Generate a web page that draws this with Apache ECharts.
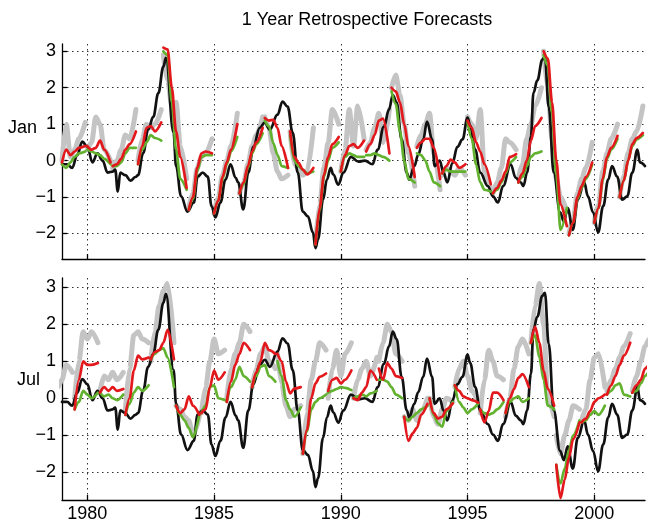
<!DOCTYPE html>
<html>
<head>
<meta charset="utf-8">
<script src="https://cdn.jsdelivr.net/npm/echarts@6/dist/echarts.min.js"></script>
<style>
  html, body { margin: 0; padding: 0; background: #fff; }
  #chart { width: 649px; height: 528px; }
</style>
</head>
<body>
<div id="chart"></div>
<script>
var obsTime = [1979.0, 1979.2, 1979.4, 1979.6, 1979.8, 1980.0, 1980.2, 1980.4, 1980.6, 1980.8,
  1981.0, 1981.1, 1981.2, 1981.3, 1981.5, 1981.7, 1981.9, 1982.0, 1982.2, 1982.4,
  1982.6, 1982.8, 1983.0, 1983.1, 1983.4, 1983.5, 1983.7, 1983.95, 1984.2, 1984.35,
  1984.55, 1984.75, 1984.9, 1985.05, 1985.25, 1985.45, 1985.65, 1985.85, 1985.95, 1986.15,
  1986.35, 1986.55, 1986.8, 1987.0, 1987.2, 1987.5, 1987.7, 1987.9, 1988.1, 1988.3,
  1988.5, 1988.7, 1988.9, 1989.0, 1989.1, 1989.3, 1989.45, 1989.6, 1989.7, 1989.9,
  1990.1, 1990.4, 1990.7, 1990.95, 1991.25, 1991.45, 1991.7, 1991.9, 1992.05, 1992.2,
  1992.4, 1992.6, 1992.7, 1992.9, 1993.05, 1993.25, 1993.4, 1993.6, 1993.7, 1993.9,
  1994.05, 1994.2, 1994.4, 1994.6, 1994.8, 1995.0, 1995.1, 1995.3, 1995.5, 1995.8,
  1996.0, 1996.2, 1996.4, 1996.7, 1996.9, 1997.1, 1997.2, 1997.35, 1997.5, 1997.6,
  1997.75, 1997.95, 1998.05, 1998.2, 1998.4, 1998.65, 1998.8, 1998.95, 1999.15, 1999.35,
  1999.6, 1999.75, 1999.95, 2000.15, 2000.35, 2000.55, 2000.7, 2000.9, 2001.1, 2001.3,
  2001.5, 2001.7, 2001.8, 2002.0];
var obsValue = [-0.1, -0.1, -0.2, 0.15, 0.52, 0.38, -0.05, 0.2, 0.0, -0.33,
  -0.3, -0.25, -0.85, -0.33, -0.4, -0.55, -0.45, -0.4, 0.2, 0.85,
  1.2, 1.85, 2.58, 2.82, 0.77, -0.15, -0.98, -1.4, -1.15, -0.44,
  -0.33, -0.44, -1.25, -1.56, -1.15, -0.52, -0.1, -0.47, -0.6, -1.34,
  -0.33, 0.38, 0.9, 1.04, 0.85, 1.26, 1.62, 1.48, 0.77, -0.33,
  -1.4, -1.53, -1.97, -2.4, -2.16, -1.07, -0.52, -0.2, -0.38, -0.66,
  -0.33, 0.1, -0.03, 0.0, -0.1, 0.3, 0.93, 1.4, 1.8, 1.6,
  0.58, -0.33, -0.52, -0.15, 0.16, 0.58, 1.07, 0.58, -0.15, 0.0,
  -0.33, -0.6, -0.07, 0.38, 0.58, 1.18, 0.96, 0.3, -0.33, -0.7,
  -0.98, -1.15, -0.7, -0.1, -0.47, -0.6, -0.7, -0.33, 0.66, 1.86,
  2.2, 2.77, 2.85, 1.48, -0.33, -1.42, -1.67, -1.3, -1.9, -1.07,
  -0.6, -0.98, -1.42, -1.97, -1.25, -0.52, -0.15, -0.44, -1.07, -0.98,
  -0.33, 0.3, -0.05, -0.15];

// forecast leads (months after the start) at which each segment is read
var leadMonths = [0, 2, 4, 6, 8, 11];

// January starts (top panel)
var janStartYears = [1979, 1980, 1981, 1982, 1983, 1984, 1985, 1986, 1987, 1988, 1989, 1990,
  1991, 1992, 1993, 1994, 1995, 1996, 1997, 1998, 1999, 2000, 2001];
var janRed = [
  [-0.05, 0.3, 0.15, 0.25, 0.35, 0.4], [0.4, 0.3, 0.35, 0.55, 0.3, -0.05],
  [-0.15, -0.1, 0.05, 0.3, 0.45, 0.8], [-0.1, 0.4, 0.9, 0.95, 0.8, 1.05],
  [3.1, 3.05, 2.0, 0.8, 0.1, -0.75], [-1.35, -1.0, -0.2, 0.2, 0.25, 0.2],
  [-1.45, -1.1, -0.45, -0.05, 0.3, 1.0], [-0.9, -0.6, -0.15, 0.25, 0.5, 0.9],
  [1.17, 1.1, 1.12, 0.9, 0.4, -0.2], [0.8, 0.1, -0.06, -0.25, -0.38, -0.2],
  [-2.3, -1.3, -0.4, 0.1, 0.45, 0.65], [-0.3, 0.15, 0.4, 0.45, 0.35, 0.55],
  [0.25, 0.45, 0.7, 1.1, 1.15, 0.2], [2.0, 1.9, 1.6, 1.0, 0.4, -0.45],
  [0.35, 0.5, 0.6, 0.6, 0.35, -0.5], [-0.35, -0.15, 0.03, -0.05, -0.2, -0.1],
  [1.1, 0.9, 0.5, 0.25, -0.1, -0.65], [-0.9, -0.75, -0.55, -0.3, 0.1, 0.18],
  [-0.6, -0.35, 0.0, 0.55, 0.95, 1.17], [3.0, 2.8, 1.6, 0.0, -1.2, -1.8],
  [-2.05, -1.7, -1.0, -0.7, -0.45, -0.05], [-1.7, -1.3, -0.5, 0.1, 0.35, 0.68],
  [-1.0, -0.55, 0.0, 0.45, 0.62, 0.76]
];
var janGreen = [
  [-0.1, -0.2, -0.05, 0.1, 0.2, 0.25], [0.3, 0.25, 0.2, 0.15, 0.05, -0.1],
  [-0.15, -0.15, -0.05, 0.2, 0.35, 0.35], [-0.1, 0.3, 0.5, 0.7, 0.62, 0.55],
  [3.0, 2.9, 1.6, 0.3, -0.5, -0.8], [-1.35, -1.05, -0.3, 0.1, 0.15, 0.15],
  [-1.45, -1.1, -0.5, -0.1, 0.25, 0.65], [-0.9, -0.65, -0.2, 0.2, 0.45, 0.75],
  [1.1, 0.94, 0.48, 0.16, -0.15, -0.2], [0.7, 0.0, -0.15, -0.25, -0.35, -0.3],
  [-2.3, -1.35, -0.45, 0.0, 0.35, 0.5], [-0.3, 0.1, 0.2, 0.15, 0.1, 0.1],
  [0.15, 0.15, 0.2, 0.15, 0.1, 0.0], [1.9, 1.55, 0.8, 0.0, -0.5, -0.6],
  [0.2, 0.15, 0.0, -0.3, -0.6, -0.7], [-0.35, -0.25, -0.3, -0.3, -0.3, -0.3],
  [1.05, 0.6, -0.1, -0.6, -0.8, -0.85], [-0.9, -0.8, -0.6, -0.35, -0.05, 0.1],
  [-0.6, -0.45, -0.15, 0.1, 0.2, 0.25], [2.9, 2.6, 1.3, -0.4, -1.9, -1.3],
  [-2.05, -1.7, -1.05, -0.75, -0.5, -0.1], [-1.7, -1.3, -0.55, 0.05, 0.3, 0.6],
  [-1.0, -0.55, 0.0, 0.4, 0.58, 0.7]
];
var janGray = [
  [0.0, 1.0, 0.1, 0.3, 0.6, 1.05], [0.3, 0.5, 1.2, 1.0, 0.3, 0.0],
  [-0.2, 0.0, 0.3, 0.7, 0.6, 1.4], [0.0, 0.6, 1.0, 0.9, 1.0, 1.4],
  [2.9, 2.2, 1.5, 1.6, 0.4, -0.5], [-1.3, -0.9, -0.2, 0.1, 0.2, 0.6],
  [-1.45, -1.0, -0.4, 0.0, 0.4, 1.3], [-0.9, -0.6, -0.1, 0.4, 0.7, 1.2],
  [1.2, 0.9, 0.2, -0.3, -0.5, -0.4], [0.8, -0.1, -0.2, -0.4, -0.3, 0.9],
  [-2.3, -1.2, -0.2, 0.5, 1.4, 1.0], [-0.3, 0.3, 1.4, 0.4, 1.5, 0.6],
  [0.3, 0.5, 0.9, 1.3, 0.5, 1.4], [2.0, 2.35, 1.8, 1.0, 0.2, -0.7],
  [0.4, 0.7, 1.0, 1.3, 0.2, -0.8], [-0.4, -0.2, -0.3, -0.4, -0.2, -0.4],
  [1.2, 1.0, 0.6, 1.4, -0.3, -0.8], [-0.9, -0.6, -0.2, 0.6, 0.5, 0.3],
  [-0.5, -0.1, 0.6, 1.0, 1.5, 2.0], [3.0, 2.0, 0.6, -0.5, -1.0, -1.4],
  [-2.0, -1.6, -0.9, -0.5, -0.2, 0.5], [-1.7, -1.2, -0.3, 0.2, 0.6, 1.0],
  [-1.0, -0.4, 0.2, 0.6, 0.8, 1.5]
];

// July starts (bottom panel)
var julStartYears = [1978.5, 1979.5, 1980.5, 1981.5, 1982.5, 1983.5, 1984.5, 1985.5, 1986.5,
  1987.5, 1988.5, 1989.5, 1990.5, 1991.5, 1992.5, 1993.5, 1994.5, 1995.5, 1996.5,
  1997.5, 1998.5, 1999.5, 2000.5, 2001.5];
var julRed = [
  null,
  [-0.3, 0.5, 1.0, 0.9, 0.9, 0.95], [0.15, 0.3, 0.2, 0.3, 0.2, 0.25],
  [-0.45, 0.0, 0.75, 1.15, 1.05, 1.1], [1.05, 1.25, 1.3, 1.5, 1.85, 1.05],
  [-0.2, -0.4, -0.3, 0.05, -0.2, -0.45], [-0.4, -0.3, 0.3, 0.75, 0.5, 0.7],
  [-0.1, 0.45, 0.9, 1.2, 1.5, 1.3], [0.3, 0.7, 1.0, 1.5, 1.3, 1.2],
  [1.2, 1.0, 0.45, 0.13, 0.26, 0.3], [-1.5, -0.85, 0.0, 0.4, 0.58, 0.67],
  [0.2, 0.5, 0.55, 0.4, 0.5, 0.75], [0.0, -0.05, 0.15, 0.3, 0.75, 0.5],
  [0.8, 0.5, 0.95, 0.8, 0.6, 0.55], [-0.5, -1.15, -0.95, -0.8, -0.45, -0.15],
  [0.0, -0.4, -0.55, -0.5, -0.3, -0.14], [0.35, 0.2, 0.05, 0.0, -0.05, -0.12],
  [-0.3, -0.65, -0.35, 0.15, 0.15, -0.05], [-0.4, 0.0, 0.25, 0.55, 0.65, 0.3],
  [1.5, 1.93, 1.5, 0.75, 0.25, -0.2], [-1.8, -2.7, -2.2, -1.6, -1.1, -0.65],
  [-0.65, -0.55, -0.35, -0.1, 0.0, 0.1], [0.1, 0.35, 0.6, 0.9, 1.15, 1.5],
  [0.15, 0.35, 0.5, 0.8, 0.9, 1.0]
];
var julGreen = [
  null,
  [-0.3, -0.1, 0.2, 0.1, 0.0, 0.15], [0.15, 0.05, 0.1, 0.0, -0.05, 0.1],
  [-0.45, -0.15, 0.15, 0.3, 0.2, 0.35], [1.05, 1.2, 1.3, 1.35, 1.1, 0.3],
  [-0.2, -0.45, -0.6, -0.8, -1.05, -0.45], [-0.4, -0.2, 0.3, 0.35, 0.0, -0.05],
  [-0.1, 0.3, 0.5, 0.85, 0.6, 0.45], [0.3, 0.6, 0.85, 0.9, 0.6, 0.45],
  [1.0, 0.6, -0.05, -0.3, -0.5, -0.25], [-1.5, -0.9, -0.3, -0.1, 0.0, 0.1],
  [0.15, 0.2, 0.25, 0.3, 0.28, 0.22], [0.0, 0.05, 0.1, 0.05, 0.13, 0.2],
  [0.5, 0.5, 0.45, 0.3, 0.1, 0.0], [-0.5, -0.6, -0.5, -0.4, -0.3, -0.2],
  [0.0, -0.45, -0.68, -0.77, -0.35, -0.1], [0.35, -0.1, -0.25, -0.4, -0.3, -0.14],
  [-0.3, -0.4, -0.45, -0.4, -0.3, -0.1], [-0.4, -0.1, 0.0, 0.05, -0.1, 0.0],
  [1.5, 1.7, 1.1, 0.5, -0.2, -0.3], [-1.8, -2.3, -1.9, -1.4, -1.0, -0.6],
  [-0.65, -0.6, -0.45, -0.35, -0.45, -0.2], [0.1, 0.2, 0.35, 0.4, 0.1, 0.05],
  [0.15, 0.2, 0.4, 0.6, 0.7, 0.8]
];
var julGray = [
  [0.0, 0.0, 0.3, 0.5, 0.9, 0.7],
  [0.0, 1.0, 1.8, 1.6, 1.8, 1.5], [0.2, 0.6, 0.5, 0.7, 0.5, 0.7],
  [-0.3, 0.8, 1.7, 1.8, 1.6, 1.5], [1.0, 1.8, 2.5, 2.9, 3.1, 1.5],
  [-0.2, -0.3, -0.5, -0.6, -1.0, -0.5], [-0.4, 0.3, 1.0, 1.6, 1.2, 1.3],
  [0.0, 0.8, 1.2, 1.5, 2.0, 1.8], [0.3, 0.8, 1.2, 1.4, 1.0, 0.8],
  [1.2, 0.4, -0.2, -0.5, -0.3, -0.2], [-1.5, -0.4, 0.5, 1.0, 1.5, 1.3],
  [0.0, 0.8, 1.3, 0.6, 1.2, 1.5], [0.0, 0.5, 0.8, 1.0, 0.6, 1.1],
  [1.0, 1.5, 2.0, 1.8, 1.2, 1.0], [-0.5, -0.6, -0.3, -0.6, -0.4, 0.0],
  [0.0, -0.5, -0.7, -0.3, 0.0, -0.1], [0.3, 0.8, 1.0, 0.6, 0.2, -0.1],
  [-0.4, 0.5, 1.3, 1.0, 0.6, 0.5], [-0.5, 0.0, 0.8, 1.4, 1.6, 1.2],
  [1.5, 2.5, 3.1, 2.0, 0.0, -0.5], [-1.0, -1.5, -1.0, -0.6, -0.2, -0.3],
  [-0.6, -0.3, 0.5, 1.1, 1.2, 0.3], [0.2, 0.5, 0.8, 1.1, 1.4, 1.75],
  [0.2, 0.6, 1.0, 1.4, 1.6, 1.6]
];

var yTicks = [-2, -1, 0, 1, 2, 3];
var xTicks = [1980, 1985, 1990, 1995, 2000];

// join the yearly forecast pieces into one broken line
function segments(starts, rows) {
  var out = [];
  starts.forEach(function (s, i) {
    if (!rows[i]) return;
    rows[i].forEach(function (v, k) {
      out.push([s + leadMonths[k] / 12, v]);
    });
    out.push([s + 0.95, '-']);
  });
  return out;
}

var obsData = obsTime.map(function (t, i) { return [t, obsValue[i]]; });

var font = 'Liberation Sans, Arial, sans-serif';
var dots = { type: [1.5, 3.5], color: '#333', width: 1 };

function xAxisFor(idx, labels) {
  return {
    type: 'value', gridIndex: idx, min: 1979, max: 2002,
    axisLine: { show: true, onZero: false, lineStyle: { color: '#000', width: 1.3 } },
    axisTick: { show: true, inside: true, length: 5, customValues: xTicks, lineStyle: { color: '#000', width: 1.3 } },
    axisLabel: {
      show: labels, customValues: xTicks, fontSize: 18, color: '#000', fontFamily: font, margin: 5,
      formatter: function (v) { return String(v); }
    },
    splitLine: { show: true, lineStyle: dots }
  };
}
function yAxisFor(idx, lo, hi) {
  return {
    type: 'value', gridIndex: idx, min: lo, max: hi,
    axisLine: { show: true, onZero: false, lineStyle: { color: '#000', width: 1.3 } },
    axisTick: { show: true, inside: true, length: 5, customValues: yTicks, lineStyle: { color: '#000', width: 1.3 } },
    axisLabel: {
      customValues: yTicks, fontSize: 18, color: '#000', fontFamily: font, margin: 6,
      formatter: function (v) { return String(v).replace('-', '\u2212'); }
    },
    splitLine: { show: true, lineStyle: dots }
  };
}

function line(idx, data, color, width, smooth) {
  return {
    type: 'line', xAxisIndex: idx, yAxisIndex: idx, data: data,
    showSymbol: false, symbol: 'none', connectNulls: false, silent: true,
    smooth: smooth, smoothMonotone: 'x',
    lineStyle: { color: color, width: width, cap: 'round', join: 'round' }
  };
}

var chart = echarts.init(document.getElementById('chart'), null, { renderer: 'canvas' });
chart.setOption({
  animation: false,
  backgroundColor: '#fff',
  title: {
    text: '1 Year Retrospective Forecasts', left: 362, top: 6, textAlign: 'center',
    textStyle: { fontSize: 18, fontWeight: 'normal', color: '#000', fontFamily: font }
  },
  graphic: [
    { type: 'text', left: 8, top: 119, style: { text: 'Jan', font: '18px ' + font, fill: '#000' } },
    { type: 'text', left: 17, top: 371, style: { text: 'Jul', font: '18px ' + font, fill: '#000' } }
  ],
  grid: [
    { left: 62, width: 583, top: 44, height: 215 },
    { left: 62, width: 583, top: 278, height: 222 }
  ],
  xAxis: [xAxisFor(0, false), xAxisFor(1, true)],
  yAxis: [yAxisFor(0, -2.7, 3.2), yAxisFor(1, -2.75, 3.25)],
  series: [
    line(0, segments(janStartYears, janGray), '#c4c4c4', 5, 0.3),
    line(0, obsData, '#111', 2.7, 0.4),
    line(0, segments(janStartYears, janGreen), '#62b22f', 2.7, 0.3),
    line(0, segments(janStartYears, janRed), '#e3181c', 2.7, 0.3),
    line(1, segments(julStartYears, julGray), '#c4c4c4', 5, 0.3),
    line(1, obsData, '#111', 2.7, 0.4),
    line(1, segments(julStartYears, julGreen), '#62b22f', 2.7, 0.3),
    line(1, segments(julStartYears, julRed), '#e3181c', 2.7, 0.3)
  ]
});
</script>
</body>
</html>
